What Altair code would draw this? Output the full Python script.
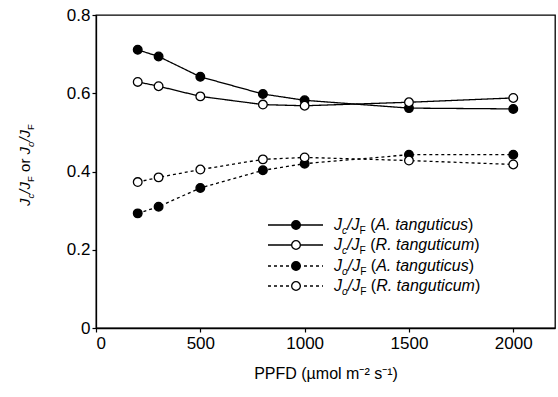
import altair as alt
import pandas as pd

# ---------------- data ----------------
ppfd = [200, 300, 500, 800, 1000, 1500, 2000]
jc_a = [0.711, 0.694, 0.642, 0.598, 0.582, 0.562, 0.560]   # Jc/JF  A. tanguticus
jc_r = [0.629, 0.618, 0.592, 0.571, 0.568, 0.577, 0.588]   # Jc/JF  R. tanguticum
jo_a = [0.293, 0.310, 0.358, 0.403, 0.420, 0.443, 0.443]   # Jo/JF  A. tanguticus
jo_r = [0.373, 0.385, 0.405, 0.431, 0.436, 0.428, 0.418]   # Jo/JF  R. tanguticum

x_ticks = [0, 500, 1000, 1500, 2000]
y_ticks = [0, 0.2, 0.4, 0.6, 0.8]

series_defs = [
    ("Jc/JF", "A. tanguticus", jc_a, "c"),
    ("Jc/JF", "R. tanguticum", jc_r, "c"),
    ("Jo/JF", "A. tanguticus", jo_a, "o"),
    ("Jo/JF", "R. tanguticum", jo_r, "o"),
]

rows = []
for ratio, sp, vals, _ in series_defs:
    for x, v in zip(ppfd, vals):
        rows.append(dict(ppfd=x, value=v, ratio=ratio, species=sp, series=ratio + " " + sp))
df = pd.DataFrame(rows)

# ---------------- text layout helpers ----------------
W = {'J': 500, '/': 278, ' ': 278, '(': 333, ')': 333, 'A': 667, 'R': 722, '.': 278,
     't': 278, 'a': 556, 'n': 556, 'g': 556, 'u': 556, 'i': 222, 'c': 500, 's': 500,
     'm': 833, 'o': 556, 'r': 333, 'F': 611}


def text_width(t, fs):
    return sum(W.get(ch, 556) for ch in t) * fs / 1000.0


def pieces(segs, x0, y0, fs, vertical=False):
    out = []
    adv = 0.0
    for text, style, sub in segs:
        size = fs * 0.64 if sub else fs
        off = fs * 0.28 if sub else 0.0
        # leading/trailing spaces are collapsed by SVG: advance for them explicitly
        lead = len(text) - len(text.lstrip(" "))
        adv += text_width(" " * lead, size)
        core = text.strip(" ")
        if core:
            if vertical:
                out.append(dict(px=x0 + off, py=y0 - adv, t=core, fs=size, ang=270, style=style))
            else:
                out.append(dict(px=x0 + adv, py=y0 + off, t=core, fs=size, ang=0, style=style))
        adv += text_width(text.lstrip(" "), size)
    return out, adv


def ratio_segs(sub):
    return [("J", "italic", False), (sub, "italic", True), ("/", "italic", False),
            ("J", "italic", False), ("F", "normal", True)]


# legend (pixel positions inside plot area)
LFS = 16
row_y = [210, 230, 251, 271]
leg_rows = []
txt_rows = []
for (ratio, sp, _, sub), yy in zip(series_defs, row_y):
    leg_rows.append(dict(x1=172, x2=227, mx=200, ly=yy, ratio=ratio, species=sp))
    segs = ratio_segs(sub) + [(" (", "normal", False), (sp, "italic", False), (")", "normal", False)]
    p, _ = pieces(segs, 238, yy + 5, LFS)
    txt_rows += p
leg_df = pd.DataFrame(leg_rows)

# y-axis title built from pieces (rotated)
YFS = 15
ysegs = ratio_segs("c") + [(" or ", "normal", False)] + ratio_segs("o")
_, ylen = pieces(ysegs, 0, 0, YFS, vertical=True)
p, _ = pieces(ysegs, -66, 150 + ylen / 2, YFS, vertical=True)
txt_rows += p
txt_df = pd.DataFrame(txt_rows)

# ---------------- chart ----------------
FONT = "Liberation Sans"
dash_scale = alt.Scale(domain=["Jc/JF", "Jo/JF"], range=[[1, 0], [3, 3]])
fill_scale = alt.Scale(domain=["A. tanguticus", "R. tanguticum"], range=["black", "white"])

x_enc = alt.X("ppfd:Q", scale=alt.Scale(domain=[0, 2200], nice=False),
              axis=alt.Axis(values=x_ticks, title="PPFD (µmol m⁻² s⁻¹)", format="d"))
y_enc = alt.Y("value:Q", scale=alt.Scale(domain=[0, 0.8], nice=False),
              axis=alt.Axis(values=y_ticks, title=None,
                            labelExpr="datum.value == 0 ? '0' : format(datum.value, '.1f')"))

lines = alt.Chart(df).mark_line(color="black", strokeWidth=1.3).encode(
    x=x_enc, y=y_enc,
    strokeDash=alt.StrokeDash("ratio:N", scale=dash_scale, legend=None),
    detail="series:N",
)
points = alt.Chart(df).mark_point(filled=True, shape="circle", size=75, stroke="black",
                                  strokeWidth=1.3, opacity=1).encode(
    x=x_enc, y=y_enc,
    fill=alt.Fill("species:N", scale=fill_scale, legend=None),
)

leg_lines = alt.Chart(leg_df).mark_rule(color="black", strokeWidth=1.3).encode(
    x=alt.X("x1:Q", scale=None, axis=None),
    x2="x2:Q",
    y=alt.Y("ly:Q", scale=None, axis=None),
    strokeDash=alt.StrokeDash("ratio:N", scale=dash_scale, legend=None),
)
leg_pts = alt.Chart(leg_df).mark_point(filled=True, shape="circle", size=75, stroke="black",
                                       strokeWidth=1.3, opacity=1).encode(
    x=alt.X("mx:Q", scale=None, axis=None),
    y=alt.Y("ly:Q", scale=None, axis=None),
    fill=alt.Fill("species:N", scale=fill_scale, legend=None),
)


def text_layer(style):
    return alt.Chart(txt_df).transform_filter(
        alt.datum.style == style
    ).mark_text(align="left", baseline="alphabetic", font=FONT, fontStyle=style,
                color="black").encode(
        x=alt.X("px:Q", scale=None, axis=None),
        y=alt.Y("py:Q", scale=None, axis=None),
        text="t:N",
        size=alt.Size("fs:Q", scale=None, legend=None),
        angle=alt.Angle("ang:Q", scale=None),
    )


chart = alt.layer(
    lines, points, leg_lines, leg_pts, text_layer("italic"), text_layer("normal")
).properties(
    width=459, height=313,
    padding={"left": 96, "top": 15, "right": 3, "bottom": 69},
    autosize=alt.AutoSizeParams(type="none"),
    background="white",
).configure_view(
    stroke="black", strokeWidth=1.3
).configure_axis(
    grid=False, domainColor="black", domainWidth=1.3, tickColor="black", tickWidth=1.2,
    tickSize=4, labelColor="black", titleColor="black", labelFont=FONT, titleFont=FONT,
    labelFontSize=17, titleFontSize=16, titleFontWeight="normal",
).configure_axisX(
    labelPadding=3, titlePadding=14,
).configure_axisY(
    labelPadding=2,
)

chart.save("out.html", embed_options={"renderer": "svg", "actions": False})
